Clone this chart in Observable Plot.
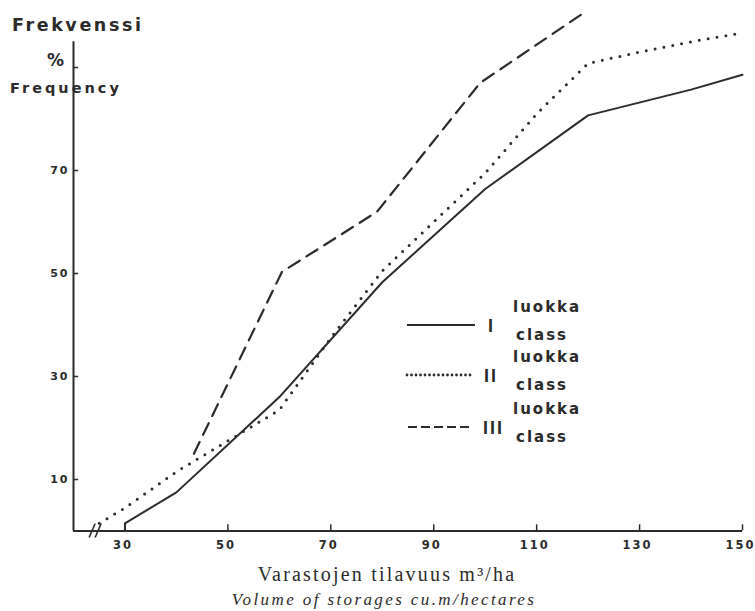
<!DOCTYPE html>
<html><head><meta charset="utf-8">
<script src="https://cdn.jsdelivr.net/npm/d3@7"></script>
<script src="https://cdn.jsdelivr.net/npm/@observablehq/plot@0.6"></script>
<style>
body{margin:0;background:#fff;}
#chart{position:relative;width:755px;height:611px;overflow:hidden;}
#chart svg{overflow:visible;}
</style></head><body><div id="chart"></div>
<script>
// ---- data ----
const classI_x  = [30, 30, 40, 60, 80, 100, 120, 140, 150];
const classI_y  = [0, 1.5, 7.5, 26, 48.3, 66.4, 80.7, 85.7, 88.6];
const classII_x = [25, 30, 40, 50, 60, 70, 80, 90, 100, 110, 120, 130, 140, 150];
const classII_y = [1.5, 4.5, 11.5, 17.5, 23.5, 37.5, 50.5, 60, 69.5, 81, 90.8, 93, 95, 96.7];
const classIII_x = [43.4, 60.5, 79, 99, 119];
const classIII_y = [15, 50.3, 62, 87, 100.5];
const xTicks = [30, 50, 70, 90, 110, 130, 150];
const yTickLabels = [10, 30, 50, 70];
const yTickMarks = [10, 30, 50, 70, 90];
const xDomain = [20, 150];
const yDomain = [0, 100];
const yAxisTop = 95;
const breakAt = 24.3;
const seriesNames = ["I", "II", "III"];
const ink = "#2b2b2b";

const rows = (xs, ys) => xs.map((x, i) => ({x, y: ys[i]}));
const dataI = rows(classI_x, classI_y);
const dataII = rows(classII_x, classII_y);
const dataIII = rows(classIII_x, classIII_y);

const sans = "'DejaVu Sans', sans-serif";

const plot = Plot.plot({
  width: 755, height: 611,
  marginLeft: 73, marginRight: 13, marginTop: 15.5, marginBottom: 80.5,
  x: {domain: xDomain},
  y: {domain: yDomain},
  style: {background: "#fff", color: ink, fontFamily: sans},
  marks: [
    Plot.ruleY([0], {x1: xDomain[0], x2: xDomain[1], stroke: ink, strokeWidth: 2}),
    Plot.ruleX([xDomain[0]], {y1: 0, y2: yAxisTop, stroke: ink, strokeWidth: 2}),
    Plot.ruleX(xTicks, {y1: 0, y2: 1.2, stroke: ink, strokeWidth: 1.5}),
    Plot.ruleY(yTickMarks, {x1: xDomain[0], x2: xDomain[0] + 1, stroke: ink, strokeWidth: 1.5}),
    Plot.axisX({ticks: xTicks, tickSize: 0, tickPadding: 10, label: null, fontSize: 11.5, fontWeight: "bold", dx: -2}),
    Plot.axisY({ticks: yTickLabels, tickSize: 0, tickPadding: 4, label: null, fontSize: 11, fontWeight: "bold"}),
    Plot.line(dataI, {x: "x", y: "y", stroke: ink, strokeWidth: 2}),
    Plot.line(dataII, {x: "x", y: "y", stroke: ink, strokeWidth: 3, strokeDasharray: "0 9", strokeLinecap: "round"}),
    Plot.line(dataIII, {x: "x", y: "y", stroke: ink, strokeWidth: 2.2, strokeDasharray: "13 8"})
  ]
});
document.getElementById("chart").appendChild(plot);

const svg = d3.select(plot);
svg.selectAll("g[aria-label='x-axis tick label'] text, g[aria-label='y-axis tick label'] text")
  .style("letter-spacing", "2px");

const xs = plot.scale("x"), ys = plot.scale("y");
// axis break mark
const bx = xs.apply(breakAt), by = ys.apply(0);
[-3, 3].forEach(o => {
  svg.append("line").attr("x1", bx + o - 3).attr("y1", by + 7).attr("x2", bx + o + 3).attr("y2", by - 7)
    .attr("stroke", ink).attr("stroke-width", 1.6);
});

function txt(x, y, s, opts = {}) {
  const t = svg.append("text").attr("x", x).attr("y", y).text(s)
    .attr("fill", ink)
    .attr("text-anchor", opts.anchor || "start")
    .style("font-family", opts.family || sans)
    .style("font-size", (opts.size || 14) + "px")
    .style("font-weight", opts.weight || "bold")
    .style("letter-spacing", (opts.ls ?? 1.5) + "px");
  if (opts.italic) t.style("font-style", "italic");
  return t;
}

// y-axis title
txt(12, 31, "Frekvenssi", {size: 17.5, ls: 2.6});
txt(47, 66, "%", {size: 17, ls: 0});
txt(10, 93, "Frequency", {size: 14.5, ls: 3});

// x-axis titles
const serif = "'Liberation Serif', 'DejaVu Serif', serif";
txt(387, 581, "Varastojen tilavuus m³/ha", {family: serif, size: 20, weight: "normal", ls: 2.2, anchor: "middle"});
txt(384, 605, "Volume of storages cu.m/hectares", {family: serif, size: 17, weight: "normal", ls: 2.4, italic: true, anchor: "middle"});

// legend
const legend = [
  {y: 325, x1: 407, x2: 475, dash: null, w: 2, cap: "butt", nx: 488},
  {y: 375, x1: 407, x2: 472, dash: "0 4.5", w: 2.8, cap: "round", nx: 484},
  {y: 427, x1: 408, x2: 472, dash: "9 4", w: 2, cap: "butt", nx: 483}
];
legend.forEach((d, i) => {
  const l = svg.append("line").attr("x1", d.x1).attr("x2", d.x2).attr("y1", d.y).attr("y2", d.y)
    .attr("stroke", ink).attr("stroke-width", d.w).attr("stroke-linecap", d.cap);
  if (d.dash) l.attr("stroke-dasharray", d.dash);
  txt(d.nx, d.y + 7, seriesNames[i], {size: 18, ls: 2, family: "'Liberation Sans', sans-serif"});
  txt(513, d.y - 13, "luokka", {size: 15, ls: 2});
  txt(516, d.y + 15, "class", {size: 15, ls: 2});
});
</script>
</body></html>
